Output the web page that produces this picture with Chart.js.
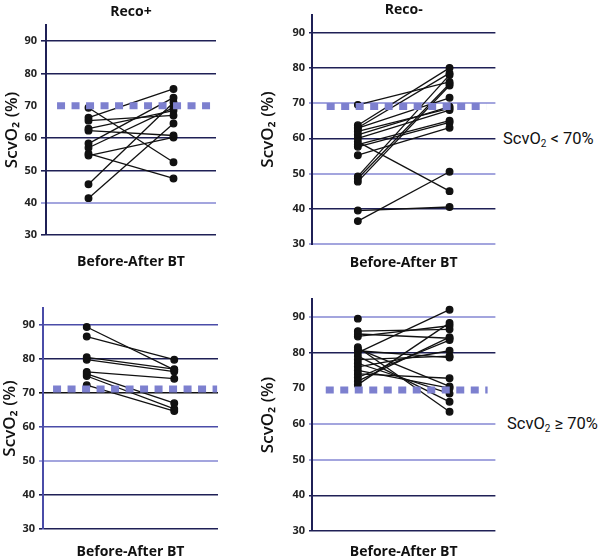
<!DOCTYPE html>
<html>
<head>
<meta charset="utf-8">
<script src="https://cdn.jsdelivr.net/npm/chart.js@4"></script>
<style>
  body { margin: 0; background: #fff; width: 600px; height: 558px; overflow: hidden; position: relative; font-family: "Open Sans", sans-serif; }
  canvas { position: absolute; }
  .side { position: absolute; font-family: Roboto, sans-serif; font-size: 16.5px; color: #111; white-space: nowrap; }
  .side sub { font-size: 10px; vertical-align: -3px; }
</style>
</head>
<body>
<canvas id="p1" width="250" height="270" style="left:0;top:0"></canvas>
<canvas id="p2" width="250" height="270" style="left:250px;top:0"></canvas>
<canvas id="p3" width="250" height="288" style="left:0;top:270px"></canvas>
<canvas id="p4" width="250" height="288" style="left:250px;top:270px"></canvas>
<div class="side" style="left:503px;top:129px">ScvO<sub>2</sub> &lt; 70%</div>
<div class="side" style="left:507px;top:414px">ScvO<sub>2</sub> ≥ 70%</div>
<script>
// y ticks and the threshold
const yTicks = [30, 40, 50, 60, 70, 80, 90];
const threshold = 70;

// ScvO2 < 70%, Reco+  (before / after BT, paired by index)
const lowRecoPlusBefore = [69.4, 66.3, 65.4, 62.9, 62.3, 58.3, 57.0, 55.2, 54.6, 45.7, 41.4];
const lowRecoPlusAfter  = [52.5, 75.2, 67.0, 68.5, 60.8, 72.5, 69.4, 47.5, 60.2, 71.0, 64.5];

// ScvO2 < 70%, Reco-
const lowRecoMinusBefore = [69.5, 63.7, 63.0, 62.9, 62.0, 61.0, 60.0, 59.0, 58.2, 57.6, 55.2, 49.2, 48.6, 47.7, 39.5, 36.5];
const lowRecoMinusAfter  = [76.0, 80.0, 78.5, 71.5, 68.5, 69.0, 68.0, 45.0, 65.0, 64.5, 63.0, 78.0, 75.5, 75.0, 40.5, 50.5];

// ScvO2 >= 70%, Reco+
const highRecoPlusBefore = [89.4, 86.6, 80.5, 79.8, 76.2, 75.6, 75.0, 72.3];
const highRecoPlusAfter  = [76.8, 79.8, 77.0, 76.3, 74.2, 67.0, 65.3, 64.7];

// ScvO2 >= 70%, Reco-
const highRecoMinusBefore = [89.5, 86.0, 85.2, 84.5, 81.5, 81.0, 80.5, 80.0, 79.0, 78.0, 77.0, 76.0, 75.0, 74.0, 73.0, 72.0, 71.0];
const highRecoMinusAfter  = [null, 86.5, 84.0, 87.5, 63.4, 70.5, 78.6, 92.0, 66.2, 79.0, 68.5, 80.5, 70.0, 72.8, 83.5, 84.3, 88.3];

const DARK = '#1f2056', MID = '#4a4ca8', LIGHT = '#a3a5de', DASH = '#7d80cf';

const panelText = {
  id: 'panelText',
  afterDraw(chart, args, o) {
    const ctx = chart.ctx, a = chart.chartArea;
    const cx = (a.left + a.right) / 2;
    ctx.save();
    ctx.fillStyle = '#111';
    ctx.textAlign = 'center';
    ctx.textBaseline = 'middle';
    ctx.font = 'bold 14px "Open Sans"';
    if (o.title) ctx.fillText(o.title, cx, o.titleY);
    ctx.fillText(o.xTitle, cx, o.xTitleY);
    ctx.restore();
  }
};

function makePanel(id, before, after, p) {
  const datasets = before.map((b, i) => ({
    data: [{x: 1, y: b}, {x: 3, y: after[i]}],
    borderColor: '#111',
    backgroundColor: '#111',
    borderWidth: 1.3,
    pointRadius: 3.3,
    pointHoverRadius: 3.3,
    spanGaps: false
  }));
  datasets.unshift({
    data: [{x: p.dashFrom, y: p.dashY}, {x: p.dashTo, y: p.dashY}],
    borderColor: DASH,
    borderWidth: 7,
    borderDash: [8, 6.5],
    borderCapStyle: 'butt',
    pointRadius: 0,
    clip: false
  });
  new Chart(document.getElementById(id), {
    type: 'line',
    data: {datasets},
    plugins: [panelText],
    options: {
      responsive: false,
      animation: false,
      events: [],
      layout: {padding: {left: 0, top: p.top, right: p.right, bottom: p.bottom}},
      plugins: {
        legend: {display: false},
        tooltip: {enabled: false},
        panelText: {title: p.title, titleY: p.titleY, xTitle: 'Before-After BT', xTitleY: p.xTitleY}
      },
      scales: {
        x: {type: 'linear', min: 0, max: 4, display: false},
        y: {
          min: 30, max: 95,
          afterFit: s => { s.width = p.left; },
          afterBuildTicks: s => { s.ticks = yTicks.map(v => ({value: v})); },
          border: {color: p.axisColor, width: 2},
          grid: {
            color: c => p.gridColors[c.tick.value] || DARK,
            lineWidth: c => p.gridColors[c.tick.value] === LIGHT ? 2 : 1.6,
            tickLength: p.tickLen
          },
          ticks: {color: '#222', padding: 4, font: {family: 'Open Sans', size: 11, weight: 'bold'}},
          title: {
            display: true, text: 'ScvO₂ (%)', color: '#111',
            padding: {top: p.yTitlePad, bottom: 0},
            font: {family: 'Open Sans', size: 17, weight: '600'}
          }
        }
      }
    }
  });
}

makePanel('p1', lowRecoPlusBefore, lowRecoPlusAfter, {
  left: 46, right: 34, top: 25, bottom: 35, tickLen: 5, yTitlePad: 2,
  title: 'Reco+', titleY: 12, xTitleY: 262,
  dashFrom: 0.26, dashTo: 4.0, dashY: threshold, axisColor: DARK,
  gridColors: {90: DARK, 80: DARK, 70: 'rgba(0,0,0,0)', 60: DARK, 50: DARK, 40: LIGHT, 30: DARK}
});
makePanel('p2', lowRecoMinusBefore, lowRecoMinusAfter, {
  left: 62, right: 1, top: 15, bottom: 26, tickLen: 3, yTitlePad: 8,
  title: 'Reco-', titleY: 10, xTitleY: 263,
  dashFrom: 0.32, dashTo: 3.8, dashY: 69, axisColor: DARK,
  gridColors: {90: DARK, 80: DARK, 70: LIGHT, 60: DARK, 50: LIGHT, 40: DARK, 30: LIGHT}
});
makePanel('p3', highRecoPlusBefore, highRecoPlusAfter, {
  left: 43, right: 32, top: 38, bottom: 29, tickLen: 4, yTitlePad: 0,
  title: '', titleY: 0, xTitleY: 282,
  dashFrom: 0.23, dashTo: 3.98, dashY: 71.2, axisColor: MID,
  gridColors: {90: MID, 80: DARK, 70: '#111', 60: MID, 50: LIGHT, 40: DARK, 30: DARK}
});
makePanel('p4', highRecoMinusBefore, highRecoMinusAfter, {
  left: 62, right: 4, top: 29, bottom: 27, tickLen: 3, yTitlePad: 8,
  title: '', titleY: 0, xTitleY: 282,
  dashFrom: 0.3, dashTo: 3.83, dashY: 69.5, axisColor: DARK,
  gridColors: {90: LIGHT, 80: DARK, 70: 'rgba(0,0,0,0)', 60: LIGHT, 50: LIGHT, 40: DARK, 30: DARK}
});
</script>
</body>
</html>
